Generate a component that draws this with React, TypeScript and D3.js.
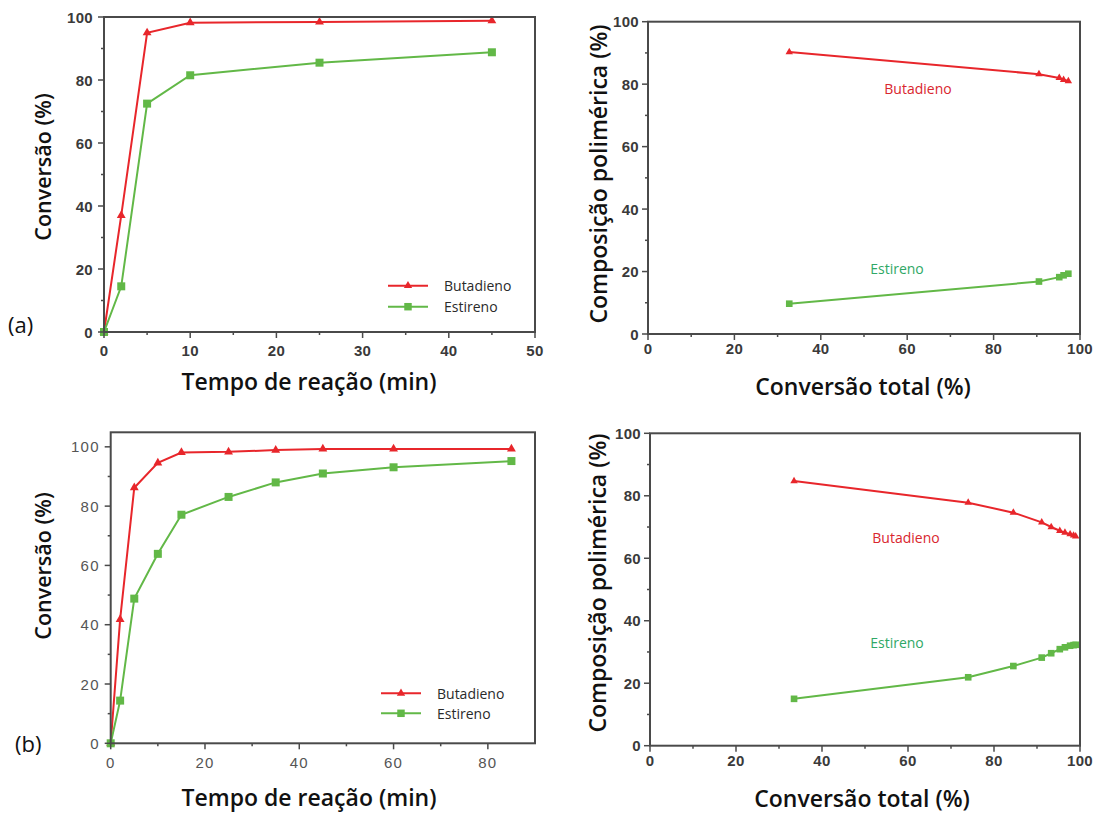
import React from "react";
import * as d3 from "d3";

// ---------- data ----------
const timeA = [0, 2, 5, 10, 25, 45];
const butA = [0, 37, 95, 98.2, 98.4, 98.8];
const styA = [0, 14.5, 72.5, 81.5, 85.5, 88.8];

const convB = [32.7, 90.5, 95.2, 96.2, 97.3];
const butCompB = [90.3, 83.2, 82.0, 81.4, 81.0];
const styCompB = [9.7, 16.8, 18.2, 18.8, 19.3];

const timeC = [0, 2, 5, 10, 15, 25, 35, 45, 60, 85];
const butC = [0, 41.8, 86.2, 94.6, 98.1, 98.3, 98.9, 99.3, 99.3, 99.3];
const styC = [0, 14.4, 48.8, 63.9, 77.1, 83.1, 88, 91, 93.1, 95.2];

const convD = [33.5, 74, 84.5, 91.1, 93.3, 95.3, 96.5, 97.7, 98.5, 99];
const butCompD = [84.7, 77.8, 74.6, 71.5, 70, 68.8, 68.2, 67.7, 67.3, 67];
const styCompD = [15, 21.9, 25.5, 28.2, 29.6, 30.9, 31.5, 32, 32.2, 32.3];

const ticks0to100 = [0, 20, 40, 60, 80, 100];
const minor0to100 = [10, 30, 50, 70, 90];
const ticksA = [0, 10, 20, 30, 40, 50];
const minorA = [5, 15, 25, 35, 45];
const ticksC = [0, 20, 40, 60, 80];
const minorC = [10, 30, 50, 70];

const RED = "#e8262b";
const GREEN = "#62b847";
const LABEL_GREEN = "#2fa866";
const LABEL_RED = "#d9262e";
const AXIS = "#4a4a4a";

type Series = { x: number[]; y: number[]; color: string; marker: "tri" | "sq"; size: number };

function Panel(props: {
  left: number; right: number; top: number; bottom: number;
  xDom: [number, number]; yDom: [number, number];
  xMajor: number[]; xMinor: number[]; yMajor: number[]; yMinor: number[];
  series: Series[]; xLabelDy: number; yLabelDx: number;
  tickColor: string; tickWeight: string | number; tickSpacing: number;
}) {
  const { left, right, top, bottom, xDom, yDom, xMajor, xMinor, yMajor, yMinor, series, xLabelDy, yLabelDx, tickColor, tickWeight, tickSpacing } = props;
  const x = d3.scaleLinear().domain(xDom).range([left, right]);
  const y = d3.scaleLinear().domain(yDom).range([bottom, top]);
  const tickFont = { fontFamily: "Arial, 'Liberation Sans', sans-serif", fontSize: 15, fontWeight: tickWeight as any, fill: tickColor, letterSpacing: tickSpacing };
  return (
    <g>
      {series.map((s, i) => {
        const pts = s.x.map((v, k) => [x(v), y(s.y[k])] as [number, number]);
        const line = d3.line()(pts) || "";
        const sym = d3.symbol().type(s.marker === "tri" ? d3.symbolTriangle : d3.symbolSquare).size(s.size)() || "";
        return (
          <g key={i}>
            <path d={line} fill="none" stroke={s.color} strokeWidth={2} />
            {pts.map((p, k) => (
              <path key={k} d={sym} transform={`translate(${p[0]},${p[1]})`} fill={s.color} />
            ))}
          </g>
        );
      })}
      <rect x={left} y={top} width={right - left} height={bottom - top} fill="none" stroke={AXIS} strokeWidth={2} />
      {yMajor.map((t) => (
        <g key={"ym" + t}>
          <line x1={left - 6} x2={left} y1={y(t)} y2={y(t)} stroke={AXIS} strokeWidth={1.5} />
          <text x={left - yLabelDx} y={y(t)} textAnchor="end" dominantBaseline="central" style={tickFont}>{t}</text>
        </g>
      ))}
      {yMinor.map((t) => (
        <line key={"yn" + t} x1={left - 3} x2={left} y1={y(t)} y2={y(t)} stroke={AXIS} strokeWidth={1.5} />
      ))}
      {xMajor.map((t) => (
        <g key={"xm" + t}>
          <line x1={x(t)} x2={x(t)} y1={bottom} y2={bottom + 6} stroke={AXIS} strokeWidth={1.5} />
          <text x={x(t)} y={bottom + xLabelDy} textAnchor="middle" dominantBaseline="central" style={tickFont}>{t}</text>
        </g>
      ))}
      {xMinor.map((t) => (
        <line key={"xn" + t} x1={x(t)} x2={x(t)} y1={bottom} y2={bottom + 3} stroke={AXIS} strokeWidth={1.5} />
      ))}
    </g>
  );
}

function LegendItem({ x, y, color, marker, label }: { x: number; y: number; color: string; marker: "tri" | "sq"; label: string }) {
  const sym = d3.symbol().type(marker === "tri" ? d3.symbolTriangle : d3.symbolSquare).size(marker === "tri" ? 30 : 56)() || "";
  return (
    <g>
      <line x1={x} x2={x + 40} y1={y} y2={y} stroke={color} strokeWidth={2} />
      <path d={sym} transform={`translate(${x + 20},${y})`} fill={color} />
      <text x={x + 56} y={y} dominantBaseline="central" style={{ fontFamily: "'Open Sans', sans-serif", fontSize: 14, fill: "#2a2a2a" }}>{label}</text>
    </g>
  );
}

const titleStyle = { fontFamily: "'Open Sans', sans-serif", fontSize: 23, fontWeight: 600, fill: "#111" } as const;
const ytitleStyle = { fontFamily: "'Open Sans', sans-serif", fontSize: 21.5, fontWeight: 600, fill: "#111" } as const;

export default function App() {
  return (
    <svg width={1099} height={814} style={{ position: "absolute", left: 0, top: 0, background: "#fff" }}>
      {/* Panel (a) left */}
      <Panel left={104} right={535} top={17} bottom={332} xDom={[0, 50]} yDom={[0, 100]}
        xMajor={ticksA} xMinor={minorA} yMajor={ticks0to100} yMinor={minor0to100}
        xLabelDy={18} yLabelDx={11} tickColor="#3a3a3a" tickWeight={700} tickSpacing={0.3}
        series={[
          { x: timeA, y: butA, color: RED, marker: "tri", size: 34 },
          { x: timeA, y: styA, color: GREEN, marker: "sq", size: 64 },
        ]} />
      <LegendItem x={388} y={285.7} color={RED} marker="tri" label="Butadieno" />
      <LegendItem x={388} y={306.7} color={GREEN} marker="sq" label="Estireno" />
      <text x={309} y={381} textAnchor="middle" dominantBaseline="central" style={titleStyle}>Tempo de reação (min)</text>
      <text transform="translate(42,167) rotate(-90)" textAnchor="middle" dominantBaseline="central" style={ytitleStyle}>Conversão (%)</text>
      <text x={8} y={333} style={{ fontFamily: "'Open Sans', sans-serif", fontSize: 22, fill: "#111" }}>(a)</text>

      {/* Panel (a) right */}
      <Panel left={648} right={1080} top={21.7} bottom={334} xDom={[0, 100]} yDom={[0, 100]}
        xMajor={ticks0to100} xMinor={minor0to100} yMajor={ticks0to100} yMinor={minor0to100}
        xLabelDy={14} yLabelDx={9} tickColor="#3a3a3a" tickWeight={700} tickSpacing={0.3}
        series={[
          { x: convB, y: butCompB, color: RED, marker: "tri", size: 24 },
          { x: convB, y: styCompB, color: GREEN, marker: "sq", size: 44 },
        ]} />
      <text x={918} y={88} textAnchor="middle" dominantBaseline="central" style={{ fontFamily: "'Open Sans', sans-serif", fontSize: 14, fill: LABEL_RED }}>Butadieno</text>
      <text x={897} y={268} textAnchor="middle" dominantBaseline="central" style={{ fontFamily: "'Open Sans', sans-serif", fontSize: 14, fill: LABEL_GREEN }}>Estireno</text>
      <text x={863} y={386} textAnchor="middle" dominantBaseline="central" style={titleStyle}>Conversão total (%)</text>
      <text transform="translate(598,174) rotate(-90)" textAnchor="middle" dominantBaseline="central" style={titleStyle}>Composição polimérica (%)</text>

      {/* Panel (b) left */}
      <Panel left={110.7} right={535} top={432.3} bottom={743.3} xDom={[0, 90]} yDom={[0, 104.9]}
        xMajor={ticksC} xMinor={minorC} yMajor={ticks0to100} yMinor={minor0to100}
        xLabelDy={19} yLabelDx={11} tickColor="#555" tickWeight={400} tickSpacing={1.2}
        series={[
          { x: timeC, y: butC, color: RED, marker: "tri", size: 34 },
          { x: timeC, y: styC, color: GREEN, marker: "sq", size: 64 },
        ]} />
      <LegendItem x={381} y={693.3} color={RED} marker="tri" label="Butadieno" />
      <LegendItem x={381} y={713.3} color={GREEN} marker="sq" label="Estireno" />
      <text x={309} y={797} textAnchor="middle" dominantBaseline="central" style={titleStyle}>Tempo de reação (min)</text>
      <text transform="translate(42,566) rotate(-90)" textAnchor="middle" dominantBaseline="central" style={ytitleStyle}>Conversão (%)</text>
      <text x={15} y={752} style={{ fontFamily: "'Open Sans', sans-serif", fontSize: 22, fill: "#111" }}>(b)</text>

      {/* Panel (b) right */}
      <Panel left={650} right={1080} top={433.3} bottom={745.7} xDom={[0, 100]} yDom={[0, 100]}
        xMajor={ticks0to100} xMinor={minor0to100} yMajor={ticks0to100} yMinor={minor0to100}
        xLabelDy={15} yLabelDx={9} tickColor="#3a3a3a" tickWeight={700} tickSpacing={0.3}
        series={[
          { x: convD, y: butCompD, color: RED, marker: "tri", size: 24 },
          { x: convD, y: styCompD, color: GREEN, marker: "sq", size: 44 },
        ]} />
      <text x={906} y={537} textAnchor="middle" dominantBaseline="central" style={{ fontFamily: "'Open Sans', sans-serif", fontSize: 14, fill: LABEL_RED }}>Butadieno</text>
      <text x={897} y={642} textAnchor="middle" dominantBaseline="central" style={{ fontFamily: "'Open Sans', sans-serif", fontSize: 14, fill: LABEL_GREEN }}>Estireno</text>
      <text x={862} y={798} textAnchor="middle" dominantBaseline="central" style={titleStyle}>Conversão total (%)</text>
      <text transform="translate(597,583) rotate(-90)" textAnchor="middle" dominantBaseline="central" style={titleStyle}>Composição polimérica (%)</text>
    </svg>
  );
}
